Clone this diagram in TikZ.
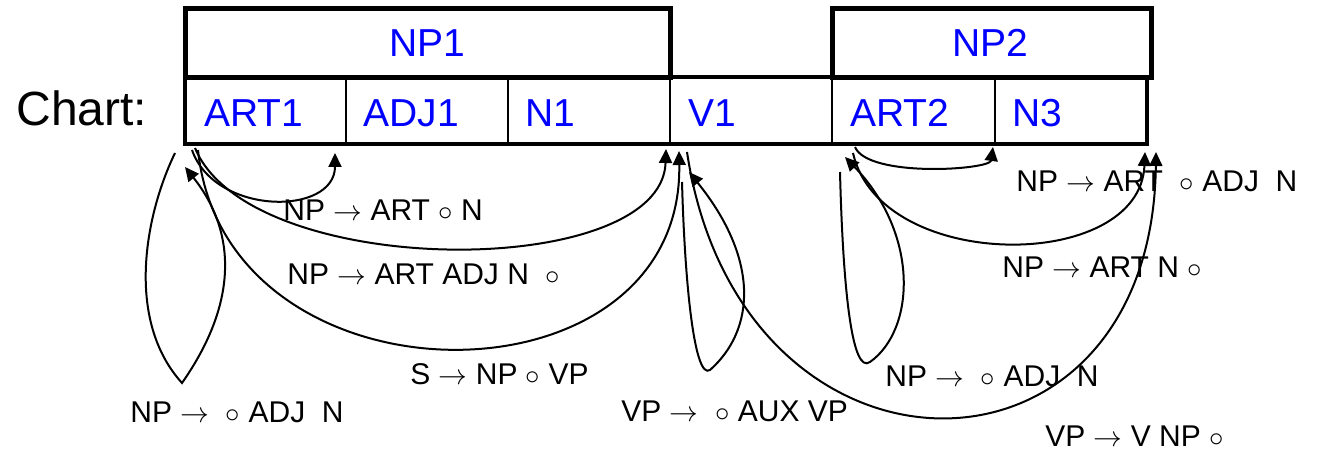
\documentclass[tikz,border=0pt]{standalone}
\usepackage{fontspec}
\setmainfont{Liberation Sans}
\usetikzlibrary{arrows.meta}
\begin{document}
\begin{tikzpicture}[x=0.5pt,y=-0.5pt,
  cell/.style={draw, line width=1pt, inner sep=0pt, outer sep=0pt, minimum height=33.25pt},
  bigbox/.style={draw, line width=2.5pt, inner sep=0pt, outer sep=0pt},
  bluetxt/.style={text=blue, font=\fontsize{19.5}{22}\selectfont, inner sep=0pt, anchor=base west},
  ruletxt/.style={text=black, font=\fontsize{15}{17}\selectfont, inner sep=0pt, anchor=base west},
  conn/.style={line width=1pt, -{Triangle[length=7pt,width=6.5pt]}}
]
\useasboundingbox (0,0) rectangle (1317,453);

% chart cells
\node[cell, minimum width=80.5pt] (c1) at (265.5,110.75) {};
\node[cell, minimum width=81pt]   (c2) at (427,110.75) {};
\node[cell, minimum width=81pt]   (c3) at (589,110.75) {};
\node[cell, minimum width=81pt]   (c4) at (751,110.75) {};
\node[cell, minimum width=81.5pt] (c5) at (913.5,110.75) {};
\node[cell, minimum width=76pt]   (c6) at (1071,110.75) {};
\draw[line width=2pt] (c1.north west) rectangle (c6.south east);

% constituent boxes
\node[bigbox, minimum width=242.5pt, minimum height=34.5pt] (np1) at (427.5,43.25) {};
\node[bigbox, minimum width=159.5pt, minimum height=34.5pt] (np2) at (991.75,43.25) {};

% labels
\node[text=black, font=\fontsize{24}{26}\selectfont, inner sep=0pt, anchor=base west] (chart) at (16,126) {Chart:};
\node[text=blue, font=\fontsize{19.5}{22}\selectfont, inner sep=0pt, anchor=base] (tnp1) at (427,57) {NP1};
\node[text=blue, font=\fontsize{19.5}{22}\selectfont, inner sep=0pt, anchor=base] (tnp2) at (990,57) {NP2};
\node[bluetxt] (t1) at (204,127) {ART1};
\node[bluetxt] (t2) at (363,127) {ADJ1};
\node[bluetxt] (t3) at (525,127) {N1};
\node[bluetxt] (t4) at (688,127) {V1};
\node[bluetxt] (t5) at (850,127) {ART2};
\node[bluetxt] (t6) at (1012,127) {N3};

% rule labels
\node[ruletxt] (r1) at (283,221) {NP $\rightarrow$ ART $\circ$ N};
\node[ruletxt] (r2) at (287,285) {NP $\rightarrow$ ART ADJ N\ \ $\circ$};
\node[ruletxt] (r3) at (410,385) {S $\rightarrow$ NP $\circ$ VP};
\node[ruletxt] (r4) at (130,423) {NP $\rightarrow$\ \ $\circ$ ADJ\ \ N};
\node[ruletxt] (r5) at (621,422) {VP $\rightarrow$\ \ $\circ$ AUX VP};
\node[ruletxt] (r6) at (885,387) {NP $\rightarrow$\ \ $\circ$ ADJ\ \ N};
\node[ruletxt] (r7) at (1016,192) {NP $\rightarrow$ ART\ \ $\circ$ ADJ\ \ N};
\node[ruletxt] (r8) at (1002,278) {NP $\rightarrow$ ART N $\circ$};
\node[ruletxt] (r9) at (1045,447) {VP $\rightarrow$ V NP $\circ$};

% connector end points
\coordinate (aS) at (175,153); \coordinate (aB) at (182,383); \coordinate (aE) at (185,167);
\coordinate (bS) at (192,150); \coordinate (bE) at (335,153);
\coordinate (cS) at (195,148); \coordinate (cE) at (666,149);
\coordinate (dS) at (198,150); \coordinate (dE) at (679,151);
\coordinate (eS) at (682,182); \coordinate (eB) at (710,370); \coordinate (eE) at (689,172);
\coordinate (fS) at (687,152); \coordinate (fE) at (1156,152);
\coordinate (gS) at (840,172); \coordinate (gB) at (870,362); \coordinate (gE) at (845,157);
\coordinate (hS) at (855,147); \coordinate (hE) at (993,147);
\coordinate (iS) at (853,153); \coordinate (iE) at (1145,152);

% connectors
\draw[conn] (aS) .. controls (145,215) and (125,320) .. (aB) .. controls (240,300) and (235,230) .. (aE);
\draw[conn] (bS) .. controls (215,216) and (335,216) .. (bE);
\draw[conn] (cS) .. controls (250,281) and (662,281) .. (cE);
\draw[conn] (dS) .. controls (225,414) and (684,414) .. (dE);
\draw[conn] (eS) .. controls (685,290) and (695,380) .. (eB) .. controls (755,330) and (760,260) .. (eE);
\draw[conn] (fS) .. controls (740,505) and (1152,505) .. (fE);
\draw[conn] (gS) .. controls (843,290) and (852,375) .. (gB) .. controls (915,330) and (920,235) .. (gE);
\draw[conn] (hS) .. controls (868,178) and (990,170) .. (hE);
\draw[conn] (iS) .. controls (880,273) and (1140,273) .. (iE);
\end{tikzpicture}
\end{document}
